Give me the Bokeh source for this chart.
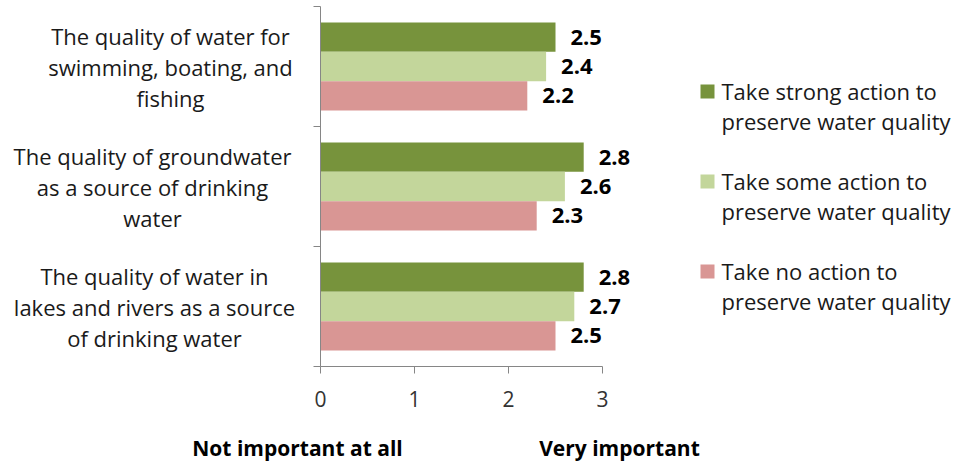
from bokeh.plotting import figure
from bokeh.layouts import row, column
from bokeh.models import Range1d, FixedTicker, ColumnDataSource
from bokeh.core.properties import value
from bokeh.embed import file_html
from bokeh.resources import INLINE

# ---------------- data ----------------
category_lines = [
    ["The quality of water for", "swimming, boating, and", "fishing"],
    ["The quality of groundwater", "as a source of drinking", "water"],
    ["The quality of water in", "lakes and rivers as a source", "of drinking water"],
]
series_lines = [
    ["Take strong action to", "preserve water quality"],
    ["Take some action to", "preserve water quality"],
    ["Take no action to", "preserve water quality"],
]
strong_action = [2.5, 2.8, 2.8]
some_action = [2.4, 2.6, 2.7]
no_action = [2.2, 2.3, 2.5]
x_ticks = [0, 1, 2, 3]
axis_titles = ["Not important at all", "Very important"]

# ---------------- style / layout ----------------
colors = ["#77933C", "#C3D69B", "#D99694"]
FONT = "Open Sans"
TXT = "#1a1a1a"
NCAT = len(category_lines)
XMAX = 3.0

TOTAL_W = 960
TOP_H = 420          # height of the row holding the plot
BOT_H = 44           # height of the strip with the axis end titles
LEFT_W = 313         # width of the category label panel
FRAME_L = 320        # page x of value 0
FRAME_T = 6          # page y of the top of the plot area
FRAME_B = 366        # page y of the x axis
PX_X = 282 / XMAX    # pixels per x unit
PX_Y = (FRAME_B - FRAME_T) / NCAT

def dx(page_x):
    return (page_x - FRAME_L) / PX_X

def dy(page_y):
    return NCAT - (page_y - FRAME_T) / PX_Y

def bare(fig):
    fig.outline_line_color = None
    fig.grid.visible = False
    fig.axis.visible = False
    fig.background_fill_color = "white"
    fig.border_fill_color = "white"

# ---------------- main plot ----------------
main_w = TOTAL_W - LEFT_W
yr = Range1d(0, NCAT)
p = figure(width=main_w, height=TOP_H,
           x_range=Range1d(0, dx(TOTAL_W)), y_range=yr,
           output_backend="svg", toolbar_location=None,
           min_border_left=FRAME_L - LEFT_W, min_border_right=0,
           min_border_top=FRAME_T, min_border_bottom=TOP_H - FRAME_B)
p.outline_line_color = None
p.grid.visible = False
p.background_fill_color = "white"
p.border_fill_color = "white"

axis_col = "#868686"
p.xaxis.ticker = FixedTicker(ticks=x_ticks)
p.xaxis.bounds = (0, XMAX)
p.xaxis.axis_line_color = axis_col
p.xaxis.major_tick_line_color = axis_col
p.xaxis.major_tick_in = 0
p.xaxis.major_tick_out = 7
p.xaxis.minor_tick_line_color = None
p.xaxis.major_label_text_font = FONT
p.xaxis.major_label_text_font_size = "21px"
p.xaxis.major_label_text_color = "#333333"
p.xaxis.major_label_standoff = 17

p.yaxis.ticker = FixedTicker(ticks=list(range(NCAT + 1)))
p.yaxis.axis_line_color = axis_col
p.yaxis.major_tick_line_color = axis_col
p.yaxis.major_tick_in = 0
p.yaxis.major_tick_out = 7
p.yaxis.minor_tick_line_color = None
p.yaxis.major_label_text_font_size = "0px"
p.yaxis.major_label_standoff = 0
p.yaxis.major_label_overrides = {i: "" for i in range(NCAT + 1)}

bar_h = 0.245
series_vals = [strong_action, some_action, no_action]
for s, (vals, col) in enumerate(zip(series_vals, colors)):
    ys = [NCAT - i - 0.5 + (1 - s) * bar_h for i in range(NCAT)]
    src = ColumnDataSource(dict(y=ys, right=vals, t=["%.1f" % v for v in vals]))
    p.hbar(y="y", left=0, right="right", height=bar_h, source=src,
           fill_color=col, line_color=None)
    p.text(x="right", y="y", text="t", source=src, x_offset=15,
           text_baseline="middle", text_align="left",
           text_font=value(FONT), text_font_size="22px",
           text_font_style="bold", text_color="#000000")

# legend (drawn inside the plot area, right of the bars)
sq_x, sq_y, lx, ly, lt = [], [], [], [], []
for s, lines in enumerate(series_lines):
    first = 91 + 90 * s
    sq_x.append(dx(707))
    sq_y.append(dy(first))
    for k, ln in enumerate(lines):
        lx.append(dx(721))
        ly.append(dy(first - 1 + 30 * k))
        lt.append(ln)
p.rect(x=sq_x, y=sq_y, width=14, height=14, width_units="screen",
       height_units="screen", fill_color=colors, line_color=None)
p.text(x=lx, y=ly, text=lt, text_align="left", text_baseline="middle",
       text_font=value(FONT), text_font_size="22px", text_color=TXT)

# ---------------- category label panel ----------------
left = figure(width=LEFT_W, height=TOP_H,
              x_range=Range1d(0, LEFT_W), y_range=yr,
              output_backend="svg", toolbar_location=None,
              min_border_left=0, min_border_right=0,
              min_border_top=FRAME_T, min_border_bottom=TOP_H - FRAME_B)
bare(left)
cat_center_px = [170, 152, 154]
line_gap = 31 / PX_Y
cx, cy, ct = [], [], []
for i, lines in enumerate(category_lines):
    yc = NCAT - i - 0.5
    n = len(lines)
    for k, ln in enumerate(lines):
        cx.append(cat_center_px[i])
        cy.append(yc + ((n - 1) / 2 - k) * line_gap)
        ct.append(ln)
left.text(x=cx, y=cy, text=ct, text_align="center", text_baseline="middle",
          text_font=value(FONT), text_font_size="22px", text_color=TXT)

# ---------------- axis end titles ----------------
bottom = figure(width=TOTAL_W, height=BOT_H,
                x_range=Range1d(0, TOTAL_W), y_range=Range1d(BOT_H, 0),
                output_backend="svg", toolbar_location=None, min_border=0)
bare(bottom)
bottom.text(x=[297, 619], y=[27, 27], text=axis_titles,
            text_align="center", text_baseline="middle",
            text_font=value(FONT), text_font_size="21px",
            text_font_style="bold", text_color="#000000")

layout = column(row(left, p, spacing=0), bottom, spacing=0)
open("out.html", "w").write(file_html(layout, INLINE))
